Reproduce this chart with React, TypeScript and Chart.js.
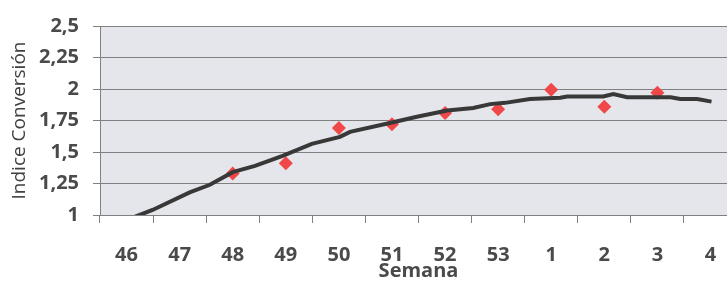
import React, { useEffect, useRef } from 'react';
import { Chart, registerables } from 'chart.js';

Chart.register(...registerables);

const weeks = ['46', '47', '48', '49', '50', '51', '52', '53', '1', '2', '3', '4'];
const observed = [null, null, 1.33, 1.41, 1.69, 1.72, 1.81, 1.84, 1.995, 1.86, 1.97, null];
const trendPos = [0.12, 0.49, 1.19, 1.57, 2.0, 2.42, 2.94, 3.49, 4.02, 4.21, 4.96, 5.47, 6.04, 6.53, 6.85, 7.13, 7.6, 8.17, 8.3, 8.98, 9.17, 9.43, 10.25, 10.43, 10.75, 11.02];
const trendVal = [0.98, 1.04, 1.18, 1.24, 1.34, 1.39, 1.47, 1.565, 1.62, 1.66, 1.73, 1.78, 1.83, 1.85, 1.88, 1.89, 1.92, 1.93, 1.94, 1.94, 1.96, 1.935, 1.935, 1.92, 1.92, 1.9];
const yMin = 1;
const yMax = 2.5;
const yStep = 0.25;
const yTitle = 'Indice Conversión';
const xTitle = 'Semana';

const plotBg = {
  id: 'plotBg',
  beforeDraw(chart: any) {
    const { ctx, chartArea } = chart;
    ctx.save();
    ctx.fillStyle = '#e5e6eb';
    ctx.fillRect(chartArea.left, chartArea.top, chartArea.right - chartArea.left, chartArea.bottom - chartArea.top);
    ctx.restore();
  },
};

export default function App() {
  const ref = useRef<HTMLCanvasElement>(null);
  useEffect(() => {
    if (!ref.current) return;
    const tickFont = { family: 'Open Sans', size: 20, weight: 'bold' as const };
    const chart = new Chart(ref.current, {
      type: 'line',
      data: {
        labels: weeks,
        datasets: [
          {
            label: 'Tendencia',
            data: trendPos.map((p, i) => ({ x: p, y: trendVal[i] })),
            xAxisID: 'xl',
            borderColor: '#383838',
            borderWidth: 4,
            pointRadius: 0,
            tension: 0,
            fill: false,
            order: 0,
          },
          {
            label: 'Observado',
            data: observed,
            xAxisID: 'x',
            showLine: false,
            pointStyle: 'rectRot',
            pointRadius: 7,
            pointBackgroundColor: '#f04848',
            pointBorderColor: '#f04848',
            pointBorderWidth: 0,
            order: 1,
          },
        ],
      },
      options: {
        responsive: false,
        animation: false,
        devicePixelRatio: 1,
        layout: { padding: { top: 16, right: 8, left: 0, bottom: 0 } },
        plugins: { legend: { display: false }, tooltip: { enabled: false } },
        scales: {
          x: {
            type: 'category',
            offset: true,
            grid: { offset: true, drawOnChartArea: false, drawTicks: true, tickLength: 8, color: '#808080' },
            border: { color: '#808080', width: 1 },
            ticks: { font: tickFont, color: '#4a4a4a', padding: 20, maxRotation: 0, autoSkip: false },
            title: { display: true, text: xTitle, font: { ...tickFont, lineHeight: 1 }, color: '#4a4a4a', padding: 0 },
            afterFit: (s: any) => { s.height = 66; },
          },
          xl: {
            type: 'linear',
            display: false,
            min: -0.5,
            max: 11.5,
          },
          y: {
            min: yMin,
            max: yMax,
            ticks: {
              stepSize: yStep,
              font: tickFont,
              color: '#4a4a4a',
              padding: 14,
              callback: (v: any) => String(v).replace('.', ','),
            },
            grid: { color: '#808080', lineWidth: 1, tickLength: 7 },
            border: { color: '#808080', width: 1 },
            title: { display: true, text: yTitle, font: { family: 'Open Sans', size: 19 }, color: '#404040', padding: { top: 8 } },
            afterFit: (s: any) => { s.width = 100; },
          },
        },
      },
      plugins: [plotBg],
    });
    return () => chart.destroy();
  }, []);
  return (
    <div style={{ position: 'fixed', left: 0, top: 0, width: 727, height: 281, overflow: 'hidden', background: '#fff' }}>
      <canvas ref={ref} width={745} height={281} style={{ display: 'block' }} />
    </div>
  );
}
